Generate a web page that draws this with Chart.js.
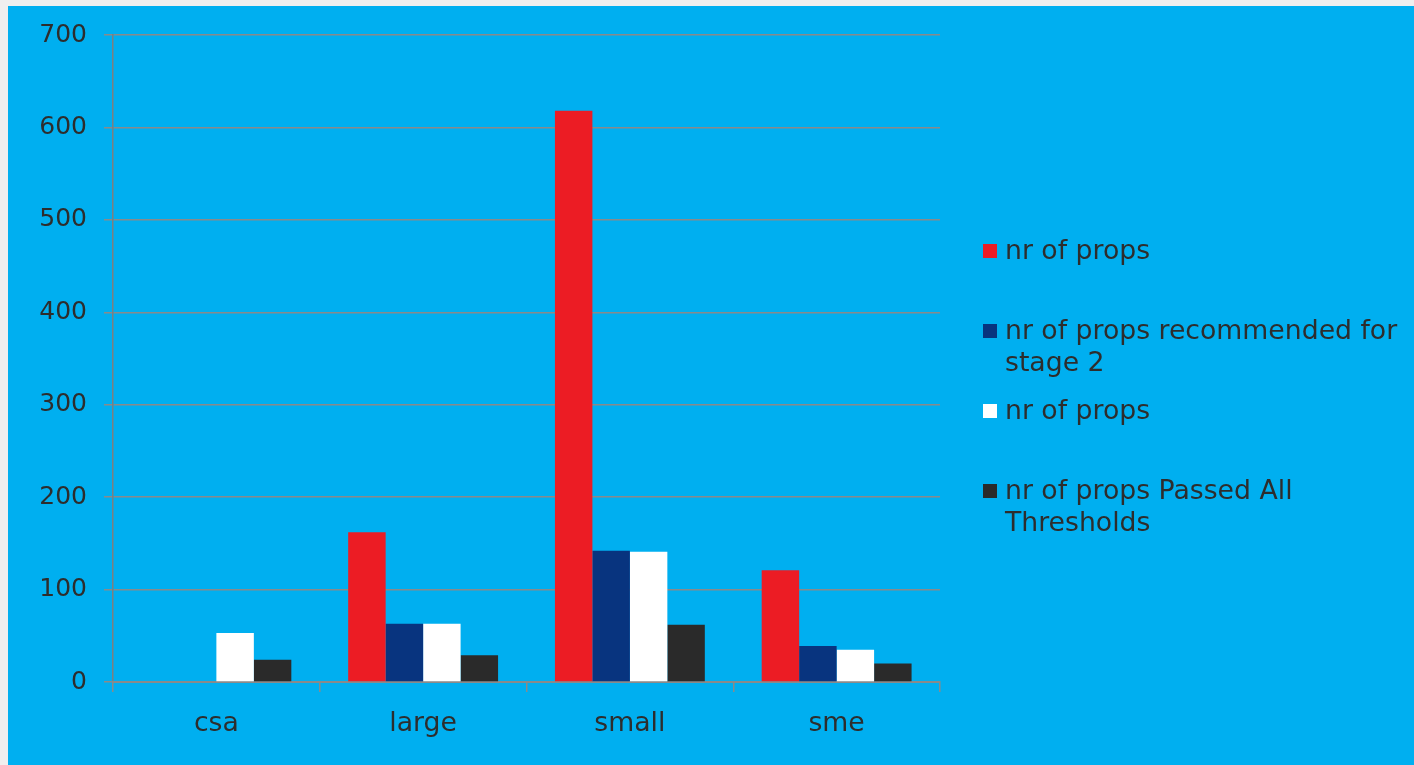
<!DOCTYPE html>
<html>
<head>
<meta charset="utf-8">
<script src="https://cdn.jsdelivr.net/npm/chart.js@4"></script>
<style>
  html, body { margin: 0; padding: 0; background: #efefef; width: 1414px; height: 765px; overflow: hidden; }
  #panel { position: absolute; left: 8px; top: 6px; width: 1406px; height: 759px; background: #00AFF0; }
  #chart { position: absolute; left: 0; top: 0; }
  #legend { position: absolute; left: 975px; top: 228px; width: 425px; font-family: "DejaVu Sans", sans-serif; font-size: 26.7px; color: #2d2d2d; }
  .item { position: absolute; left: 0; width: 425px; line-height: 32px; }
  .sw { position: absolute; left: 0; top: 10px; width: 14px; height: 14px; }
  .txt { margin-left: 22px; width: 400px; }
</style>
</head>
<body>
<div id="panel">
  <canvas id="chart" width="1406" height="759"></canvas>
  <div id="legend"></div>
</div>
<script>
const categories = ["csa", "large", "small", "sme"];
const seriesNames = ["nr of props", "nr of props recommended for stage 2", "nr of props", "nr of props Passed All Thresholds"];
const propsRed = [0, 162, 618, 121];
const recommended = [0, 63, 142, 39];
const propsWhite = [53, 63, 141, 35];
const passedAll = [24, 29, 62, 20];
const seriesColors = ["#EC1C24", "#08347F", "#FFFFFF", "#2A2A2A"];
const yTicks = [0, 100, 200, 300, 400, 500, 600, 700];

const seriesValues = [propsRed, recommended, propsWhite, passedAll];
const datasets = seriesValues.map((vals, i) => ({
  label: seriesNames[i],
  data: vals,
  backgroundColor: seriesColors[i],
  borderWidth: 0,
  barPercentage: 1.0,
  categoryPercentage: 0.725
}));

const textColor = "#2d2d2d";
const gridColor = "#8a8a8a";
const fontFam = "'DejaVu Sans', sans-serif";

new Chart(document.getElementById("chart"), {
  type: "bar",
  data: { labels: categories, datasets: datasets },
  options: {
    responsive: false,
    animation: false,
    layout: { padding: { top: 29, right: 474, left: 0, bottom: 0 } },
    plugins: { legend: { display: false }, tooltip: { enabled: false } },
    scales: {
      y: {
        min: 0, max: 700,
        afterBuildTicks: (s) => { s.ticks = yTicks.map(v => ({ value: v })); },
        afterFit: (s) => { s.width = 105; s.paddingTop = 0; s.paddingBottom = 0; },
        ticks: { color: textColor, font: { family: fontFam, size: 25 }, padding: 17 },
        grid: { color: gridColor, lineWidth: 1.5, tickLength: 9, drawTicks: true },
        border: { display: true, color: "#7f7f7f", width: 1.5 }
      },
      x: {
        afterFit: (s) => { s.height = 83; s.paddingLeft = 0; s.paddingRight = 0; },
        ticks: { color: textColor, font: { family: fontFam, size: 26.7 }, padding: 16 },
        grid: { offset: true, drawOnChartArea: false, drawTicks: true, tickLength: 10, color: gridColor, lineWidth: 1.5 },
        border: { display: true, color: gridColor, width: 2 }
      }
    }
  }
});

const legend = document.getElementById("legend");
seriesNames.forEach((name, i) => {
  const it = document.createElement("div");
  it.className = "item";
  it.style.top = (i * 80) + "px";
  const sw = document.createElement("div");
  sw.className = "sw";
  sw.style.background = seriesColors[i];
  const tx = document.createElement("div");
  tx.className = "txt";
  tx.textContent = name;
  it.appendChild(sw);
  it.appendChild(tx);
  legend.appendChild(it);
});
</script>
</body>
</html>
